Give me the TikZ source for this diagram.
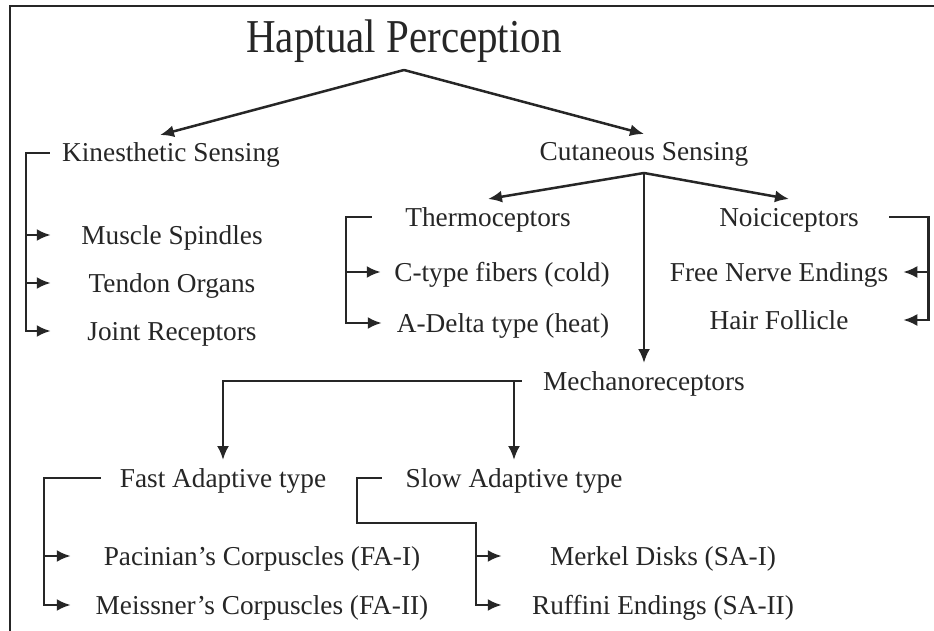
\documentclass[tikz,border=0pt]{standalone}
\usepackage{fontspec}
\setmainfont{Liberation Serif}
\usetikzlibrary{arrows.meta}

\begin{document}
\begin{tikzpicture}[x=1pt,y=-1pt,color=black!85,line width=2.5pt,
        lbl/.style={inner sep=2pt,outer ysep=4pt,text height=21pt,text depth=3pt,
            font=\fontsize{27.3}{30}\selectfont},
        arr/.style={-{Latex[length=14pt,width=12pt]}}]
        \fill[white] (0,0) rectangle (934,631);
        \useasboundingbox (0,0) rectangle (934,631);
        \draw[line width=1.4pt] (10,631) -- (10,6) -- (934,6);

        \node[font=\fontsize{41}{44}\selectfont] (title) at (404,41) {\scalebox{1}[1.15]{Haptual Perception}};
        \coordinate (tp) at (404,70);

        % kinesthetic side
        \node[lbl,minimum width=240pt] (kin) at (171,153) {Kinesthetic Sensing};
        \node[lbl,minimum width=240pt] (ms) at (172,235) {Muscle Spindles};
        \node[lbl,minimum width=240pt] (to) at (172,283) {Tendon Organs};
        \node[lbl,minimum width=240pt] (jr) at (172,331) {Joint Receptors};
        \coordinate (kb) at ([xshift=-24pt]kin.west);

        % cutaneous side
        \node[lbl] (cut) at (644,152) {Cutaneous Sensing};
        \node[lbl,minimum width=230pt] (thermo) at (488,217) {Thermoceptors};
        \node[lbl,minimum width=240pt] (ctf) at (502,272) {C-type fibers (cold)};
        \node[lbl,minimum width=240pt] (adt) at (503,323) {A-Delta type (heat)};
        \coordinate (tb) at ([xshift=-26pt]thermo.west);
        \node[lbl,minimum width=198pt] (noci) at (789,217) {Noiciceptors};
        \node[lbl,minimum width=246pt] (fne) at (779,272) {Free Nerve Endings};
        \node[lbl,minimum width=246pt] (hf) at (779,320) {Hair Follicle};
        \coordinate (nb) at ([xshift=39pt]noci.east);

        % mechanoreceptors
        \node[lbl,minimum width=242pt] (mech) at (644,381) {Mechanoreceptors};
        \node[lbl,minimum width=242pt] (fast) at (223,478) {Fast Adaptive type};
        \node[lbl,minimum width=262pt] (slow) at (514,478) {Slow Adaptive type};
        \node[lbl,minimum width=380pt] (pac) at (262,556) {Pacinian's Corpuscles (FA-I)};
        \node[lbl,minimum width=380pt] (mei) at (262,605) {Meissner's Corpuscles (FA-II)};
        \node[lbl,minimum width=320pt] (mer) at (663,556) {Merkel Disks (SA-I)};
        \node[lbl,minimum width=320pt] (ruf) at (663,605) {Ruffini Endings (SA-II)};
        \coordinate (fb) at ([xshift=-57pt]fast.west);
        \coordinate (sb) at ([xshift=-25pt]slow.west);
        \coordinate (sb2) at ([yshift=-45pt]sb);
        \coordinate (sk) at ([xshift=-26pt]mer.west);

        \draw[arr] (tp) -- ([xshift=-11pt]kin.north);
        \draw[arr] (tp) -- (cut.north);

        \draw[arr] (kin.west) -- (kb) |- (jr.west);
        \draw[arr] (kb |- ms.west) -- (ms.west);
        \draw[arr] (kb |- to.west) -- (to.west);

        \draw[arr] ([yshift=-3pt]cut.south) -- (thermo.north);
        \draw[arr] ([yshift=-3pt]cut.south) -- (noci.north);
        \draw[arr] ([yshift=-3pt]cut.south) -- (mech.north);

        \draw[arr] (thermo.west) -- (tb) |- (adt.west);
        \draw[arr] (tb |- ctf.west) -- (ctf.west);
        \draw[arr] (noci.east) -- (nb) |- (hf.east);
        \draw[arr] (nb |- fne.east) -- (fne.east);

        \draw[arr] (mech.west) -| (fast.north);
        \draw[arr] (mech.west -| slow.north) -- (slow.north);

        \draw[arr] (fast.west) -- (fb) |- (mei.west);
        \draw[arr] (fb |- pac.west) -- (pac.west);
        \draw[arr] (slow.west) -- (sb) -- (sb2) -| (sk) |- (ruf.west);
        \draw[arr] (sk) -- (mer.west);
\end{tikzpicture}
\end{document}
